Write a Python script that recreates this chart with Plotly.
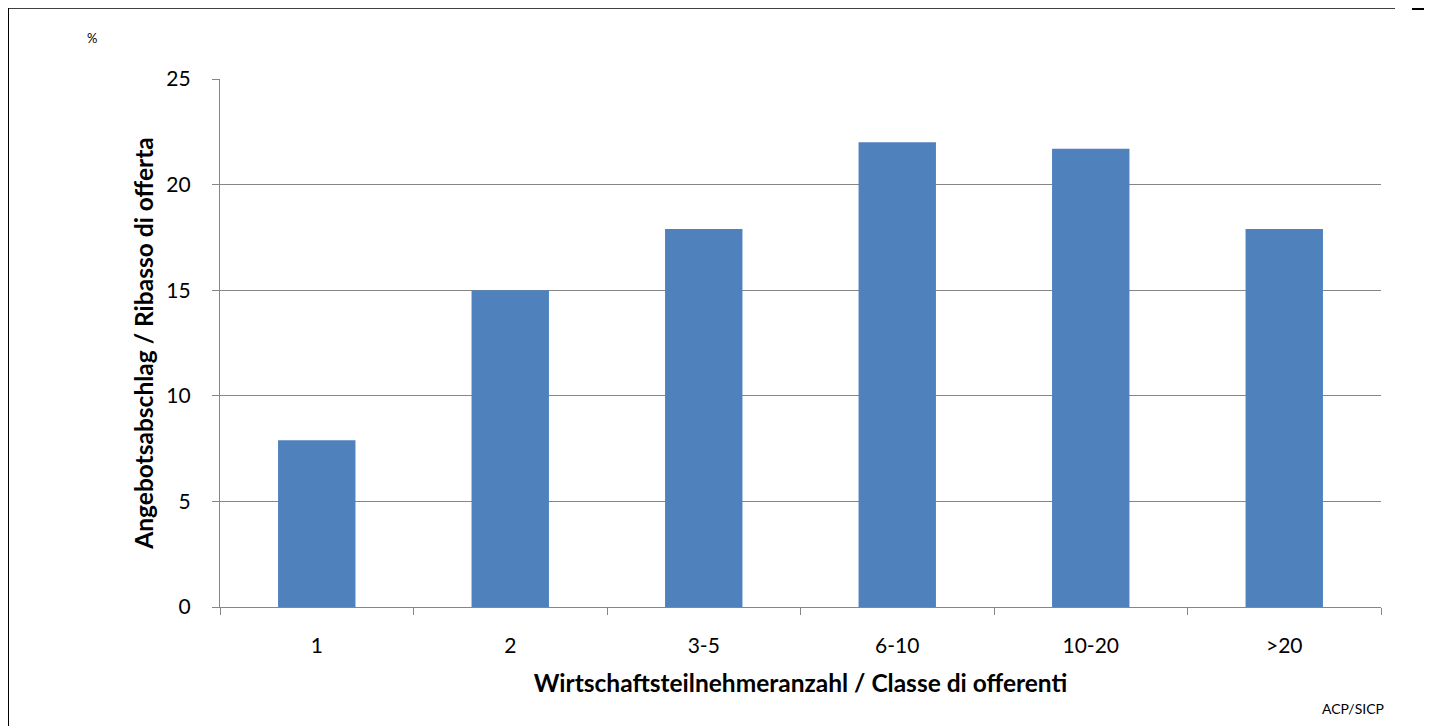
import plotly.graph_objects as go

categories = ["1", "2", "3-5", "6-10", "10-20", ">20"]
values = [7.9, 15.0, 17.9, 22.0, 21.7, 17.9]
y_ticks = [0, 5, 10, 15, 20, 25]

W, H = 1432, 726
OFF = 8  # browser body margin
L, R, T, B = 220, 1381, 79, 607  # screen coords of plot area

def px(x):
    return (x - L) / (R - L)

def py(y):
    return (B - y) / (B - T)

fig = go.Figure(go.Bar(
    x=categories, y=values,
    marker=dict(color="#4f81bd", line=dict(width=0)),
))

font = "Lato, Carlito, 'Liberation Sans', sans-serif"

fig.update_layout(
    width=W, height=H,
    margin=dict(l=L - OFF, r=W - R + OFF, t=T - OFF, b=H - B + OFF),
    paper_bgcolor="white", plot_bgcolor="white",
    bargap=0.6, showlegend=False,
    font=dict(family=font, color="black"),
    xaxis=dict(
        type="category", tickson="boundaries", ticks="outside", ticklen=7,
        tickcolor="#868686", showline=True, linecolor="#868686", linewidth=1.3,
        showgrid=False, tickfont=dict(size=21), ticklabelstandoff=20,
        title=dict(text="<b>Wirtschaftsteilnehmeranzahl / Classe di offerenti</b>",
                   font=dict(size=24.5), standoff=18),
    ),
    yaxis=dict(
        range=[0, 25], tickvals=y_ticks, ticks="outside", ticklen=7,
        tickcolor="#868686", showline=True, linecolor="#868686", linewidth=1.3,
        showgrid=True, gridcolor="#868686", gridwidth=1.3, zeroline=False,
        tickfont=dict(size=21), ticklabelstandoff=17,
        title=dict(text="<b>Angebotsabschlag / Ribasso di offerta</b>",
                   font=dict(size=24.5), standoff=5),
    ),
    annotations=[
        dict(text="%", x=px(92), y=py(38), xref="paper", yref="paper",
             showarrow=False, font=dict(size=13), xanchor="center", yanchor="middle"),
        dict(text="ACP/SICP", x=px(1353), y=py(708), xref="paper", yref="paper",
             showarrow=False, font=dict(size=14), xanchor="center", yanchor="middle"),
    ],
    shapes=[
        dict(type="line", xref="paper", yref="paper", x0=px(8), x1=px(1395),
             y0=py(8), y1=py(8), line=dict(color="black", width=1.5)),
        dict(type="line", xref="paper", yref="paper", x0=px(1412), x1=px(1432),
             y0=py(9), y1=py(9), line=dict(color="black", width=2)),
        dict(type="line", xref="paper", yref="paper", x0=px(8), x1=px(8),
             y0=py(8), y1=py(726), line=dict(color="black", width=2)),
    ],
)

fig.write_html("out.html")
